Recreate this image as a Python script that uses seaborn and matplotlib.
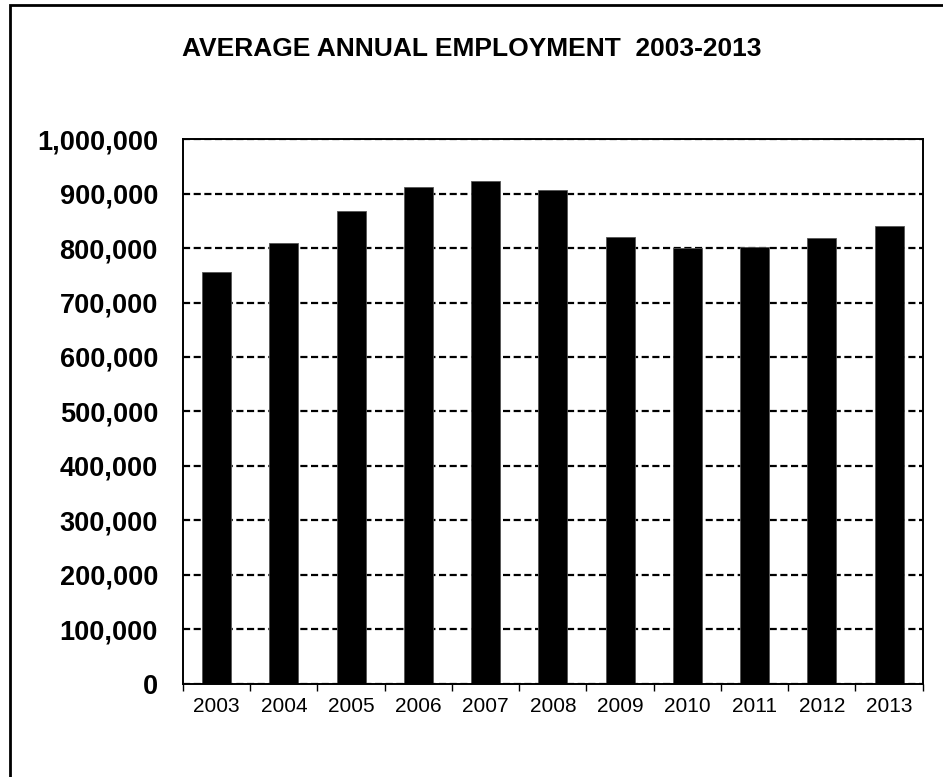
import matplotlib
matplotlib.use('Agg')

import matplotlib.pyplot as plt
import matplotlib.ticker as mticker
from matplotlib.patches import Rectangle
import numpy as np
import pandas as pd
import seaborn as sns

# 数据
years = ['2003', '2004', '2005', '2006', '2007', '2008',
         '2009', '2010', '2011', '2012', '2013']
employment = [757000, 810000, 868000, 913000, 924000, 907000,
              821000, 800000, 803000, 818000, 840000]
y_ticks = [0, 100000, 200000, 300000, 400000, 500000,
           600000, 700000, 800000, 900000, 1000000]

df = pd.DataFrame({'year': years, 'employment': employment})

sns.set_theme(style='white')
plt.rcParams['font.family'] = ['Liberation Sans', 'DejaVu Sans']
plt.rcParams['text.color'] = 'black'

fig = plt.figure(figsize=(9.43, 7.77), dpi=100)
ax = fig.add_axes([183 / 943, 1 - 683.5 / 777, (922.7 - 183) / 943, (683.5 - 139.3) / 777])

sns.barplot(data=df, x='year', y='employment', color='black', width=0.43,
            saturation=1, ax=ax)
for p in ax.patches:
    p.set_edgecolor('#555555')
    p.set_linewidth(0.6)

ax.set_ylim(0, 1000000)
ax.set_xlim(-0.5, len(years) - 0.5)
ax.set_yticks(y_ticks)
ax.yaxis.set_major_formatter(mticker.FuncFormatter(lambda v, _: f'{int(v):,}'))
ax.set_xlabel('')
ax.set_ylabel('')

# 网格线
ax.yaxis.grid(True, color='black', linestyle=(0, (3.2, 1.6)), linewidth=1.6)
ax.set_axisbelow(True)

for s in ax.spines.values():
    s.set_visible(True)
    s.set_color('black')
    s.set_linewidth(1.4)

ax.tick_params(axis='y', which='major', direction='out', length=6, width=1,
               color='black', pad=12, labelsize=19.5, labelcolor='black')
for lab in ax.get_yticklabels():
    lab.set_fontweight('bold')

ax.set_xticks(np.arange(-0.5, len(years), 1.0), minor=True)
ax.tick_params(axis='x', which='major', length=0, pad=10, labelsize=15,
               labelcolor='black')
ax.tick_params(axis='x', which='minor', direction='out', length=5, width=1,
               color='black', bottom=True)

fig.text(472 / 943, 1 - 49 / 777, 'AVERAGE ANNUAL EMPLOYMENT  2003-2013',
         ha='center', va='center', fontsize=19, fontweight='bold',
         color='black')

# 外框
fig.patches.append(Rectangle((10 / 943, -0.1), 1.2, 1.1 - 5 / 777,
                             transform=fig.transFigure, fill=False,
                             edgecolor='black', linewidth=2, zorder=10))

plt.savefig('out.png', dpi=100)
plt.close(fig)
